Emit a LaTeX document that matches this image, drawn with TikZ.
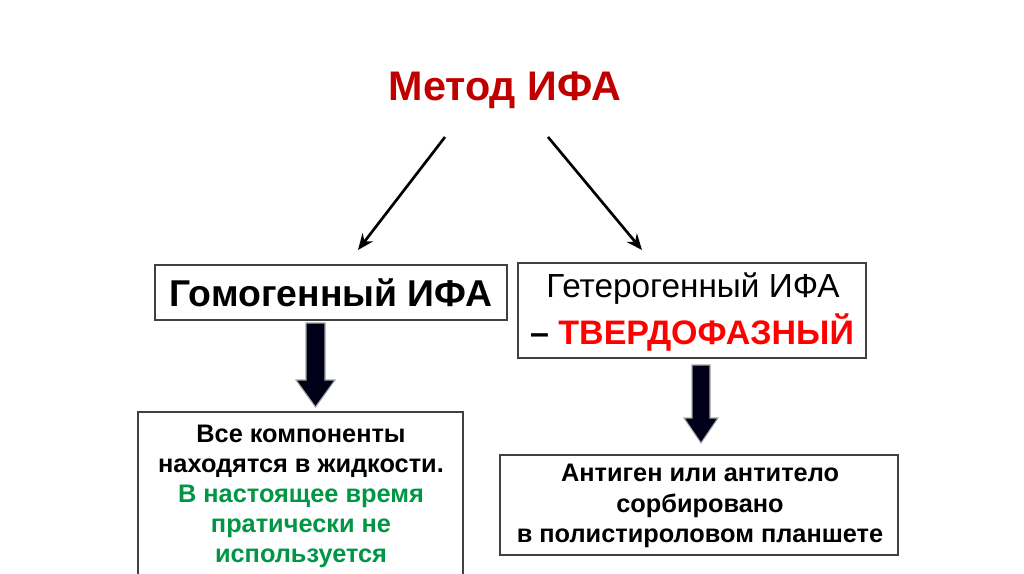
\documentclass[tikz,border=0pt]{standalone}
\usepackage{fontspec}
\setmainfont{Liberation Sans}
\usetikzlibrary{arrows.meta}
\begin{document}
\begin{tikzpicture}[x=0.75pt,y=-0.75pt,
  box/.style={draw=black!75,line width=0.9pt,fill=white,inner sep=0},
  thin/.style={-{Stealth[length=12pt,width=10pt]},line width=2pt},
  block/.style={fill=black!90!blue,draw=gray!70,line width=0.8pt}]
\useasboundingbox (0,0) rectangle (1024,574);
\definecolor{dred}{RGB}{192,0,0}
\definecolor{dgreen}{RGB}{0,150,70}
\node[text=dred,font=\bfseries\fontsize{31}{36}\selectfont] (title) at (505,90) {Метод ИФА};
\draw[box] (155,265) rectangle (507,320);
\node[font=\bfseries\fontsize{28}{32}\selectfont] (homo) at (331,293) {Гомогенный ИФА};
\draw[box] (518,263) rectangle (866,358);
\node[font=\fontsize{25}{29}\selectfont] (het1) at (693,289) {Гетерогенный ИФА};
\node[font=\bfseries\fontsize{25.5}{29}\selectfont] (het2) at (692,332) {– \textcolor{red}{ТВЕРДОФАЗНЫЙ}};
\draw[box] (138,412) rectangle (463,580);
\node[font=\bfseries\fontsize{19}{22.5}\selectfont,align=center] (lb) at (301,496)
 {Все компоненты\\находятся в жидкости.\\\textcolor{dgreen}{В настоящее время}\\\textcolor{dgreen}{пратически не}\\\textcolor{dgreen}{используется}};
\draw[box] (500,455) rectangle (898,555);
\node[font=\bfseries\fontsize{19}{23}\selectfont,align=center] (rb) at (700,506)
 {Антиген или антитело\\сорбировано\\в полистироловом планшете};
\coordinate (a1) at (445,137); \coordinate (a1e) at (358,250);
\coordinate (a2) at (548,137); \coordinate (a2e) at (642,250);
\draw[thin] (a1) -- (a1e);
\draw[thin] (a2) -- (a2e);
\draw[block] (306,323) -- (325,323) -- (325,380) -- (335,380) -- (315.5,407) -- (296,380) -- (306,380) -- cycle;
\draw[block] (692,365) -- (710,365) -- (710,418) -- (718,418) -- (701,443) -- (684,418) -- (692,418) -- cycle;
\end{tikzpicture}
\end{document}
